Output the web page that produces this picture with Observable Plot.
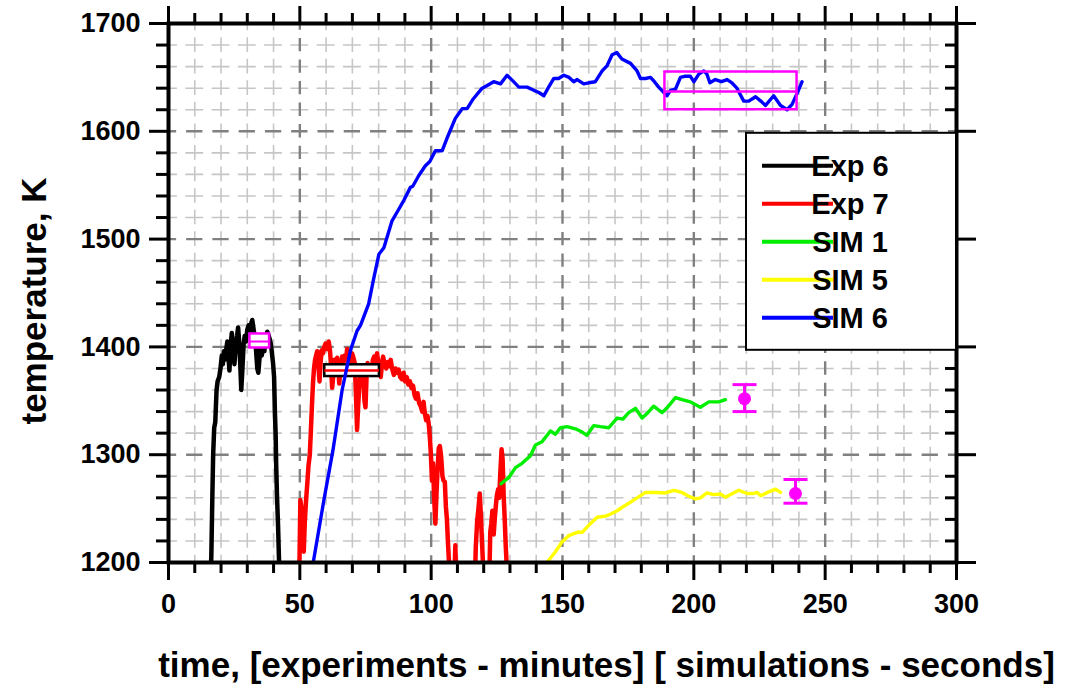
<!DOCTYPE html>
<html>
<head>
<meta charset="utf-8">
<script src="https://cdn.jsdelivr.net/npm/d3@7"></script>
<script src="https://cdn.jsdelivr.net/npm/@observablehq/plot@0.6"></script>
<style>
  html, body { margin: 0; padding: 0; background: white; }
</style>
</head>
<body>
<div id="chart"></div>
<script>
// ---------- data (time, temperature K) ----------
const exp6 = [[15.8,1180],[16.3,1205],[16.7,1262],[17.0,1300],[17.4,1325],[17.8,1330],[18.3,1360],[18.7,1368],[19.3,1372],[19.8,1380],[20.3,1392],[20.7,1384],[21.1,1396],[21.5,1388],[22.0,1398],[22.4,1405],[22.8,1392],[23.2,1378],[23.6,1400],[24.1,1413],[24.6,1400],[25.1,1384],[25.6,1402],[26.1,1410],[26.5,1418],[26.9,1405],[27.3,1385],[27.7,1360],[28.1,1378],[28.6,1402],[29.0,1410],[29.5,1405],[30.0,1416],[30.5,1420],[31.0,1414],[31.5,1422],[31.9,1425],[32.3,1418],[32.8,1410],[33.3,1398],[33.8,1380],[34.2,1376],[34.6,1388],[35.0,1398],[35.5,1392],[36.0,1400],[36.5,1396],[37.0,1408],[37.6,1414],[38.2,1410],[38.8,1405],[39.3,1396],[39.8,1385],[40.2,1372],[40.5,1340],[40.8,1318],[41.0,1290],[41.3,1262],[41.7,1235],[42.1,1200],[42.4,1180]];

const exp7 = [[49.5,1180],[49.9,1205],[50.2,1258],[50.6,1250],[51.0,1228],[51.5,1210],[51.9,1238],[52.3,1255],[52.8,1272],[53.3,1290],[53.8,1300],[54.2,1322],[54.6,1345],[55.0,1366],[55.4,1380],[55.8,1388],[56.2,1392],[56.6,1396],[57.0,1385],[57.5,1368],[57.9,1385],[58.3,1397],[58.8,1394],[59.3,1400],[59.8,1403],[60.4,1398],[61.0,1405],[61.5,1396],[61.9,1382],[62.3,1362],[62.7,1372],[63.2,1388],[63.7,1385],[64.2,1390],[64.7,1378],[65.0,1366],[65.5,1380],[66.1,1391],[66.6,1386],[67.1,1392],[67.6,1388],[68.0,1398],[68.4,1388],[68.8,1375],[69.3,1385],[69.9,1394],[70.4,1390],[70.9,1385],[71.3,1360],[71.8,1323],[72.2,1345],[72.7,1366],[73.2,1378],[73.7,1382],[74.2,1370],[74.6,1350],[75.0,1344],[75.4,1372],[75.8,1385],[76.3,1378],[76.8,1382],[77.3,1376],[77.8,1388],[78.3,1391],[78.8,1386],[79.4,1394],[79.9,1385],[80.4,1376],[80.8,1372],[81.3,1385],[81.7,1391],[82.3,1384],[82.9,1380],[83.5,1386],[84.1,1382],[84.6,1388],[85.1,1380],[85.8,1374],[86.4,1380],[87.0,1376],[87.6,1379],[88.2,1372],[88.9,1370],[89.5,1376],[90.1,1368],[90.7,1372],[91.3,1365],[91.9,1368],[92.5,1362],[93.1,1364],[93.7,1355],[94.2,1352],[94.8,1357],[95.4,1348],[96.0,1345],[96.6,1340],[97.1,1349],[97.6,1338],[98.1,1332],[98.6,1336],[99.1,1328],[99.5,1316],[99.9,1300],[100.3,1276],[100.7,1292],[101.1,1262],[101.6,1236],[102.0,1262],[102.4,1285],[102.9,1306],[103.3,1308],[103.8,1298],[104.3,1280],[104.7,1276],[105.2,1275],[105.6,1252],[106.0,1240],[106.4,1218],[106.8,1200],[107.1,1180],[108.8,1180],[109.2,1216],[109.6,1180],[116.6,1180],[117.0,1215],[117.5,1238],[118.0,1250],[118.5,1264],[118.9,1245],[119.3,1222],[119.8,1195],[120.2,1180],[122.1,1180],[122.5,1228],[122.9,1236],[123.3,1248],[123.8,1226],[124.2,1240],[124.6,1252],[125.0,1262],[125.5,1268],[125.9,1260],[126.3,1282],[126.8,1305],[127.2,1296],[127.6,1262],[128.0,1240],[128.4,1215],[128.8,1195],[129.0,1180]];

const sim1 = [[126.6,1273],[129.6,1279],[132.1,1288],[134.6,1292],[137.8,1299],[139.7,1309],[142.2,1312],[145.4,1322],[147.3,1319],[149.2,1325],[151.8,1326],[154.9,1324],[157.5,1321],[159.3,1318],[161.9,1327],[164.4,1326],[167.6,1325],[170.8,1334],[173.0,1333],[175.2,1339],[177.8,1343],[180.3,1334],[182.5,1339],[184.7,1345],[187.9,1339],[190.0,1344],[193.0,1353],[195.5,1351],[198.7,1349],[202.5,1344],[205.7,1349],[209.5,1349],[212.0,1351]];

const sim5 = [[144.1,1200],[147.3,1210],[149.8,1219],[152.4,1225],[155.6,1228],[157.5,1228],[160.6,1236],[163.2,1242],[166.4,1243],[168.4,1245],[170.8,1248],[172.6,1251],[175.9,1256],[178.4,1260],[181.6,1265],[186.0,1265],[189.2,1264.5],[192.4,1267],[195.5,1265],[198.1,1261.5],[200.6,1259],[202.5,1260],[205.0,1264.6],[207.5,1263],[210.1,1263.5],[212.0,1260.6],[214.0,1263],[217.1,1267],[220.3,1264],[222.8,1264],[224.0,1265],[225.5,1262],[228.5,1265.5],[231.1,1268],[233.0,1265]];

const sim6 = [[55.1,1200],[59.1,1257],[62.6,1304],[66.1,1360],[69.3,1397],[71.8,1415],[73.1,1420],[76.2,1440],[78.0,1462],[80.1,1486],[82.0,1492],[85.1,1517],[87.5,1527],[89.6,1536],[92.1,1548],[93.0,1549],[95.3,1559],[97.8,1568],[99.5,1572],[101.6,1582],[104.2,1582],[106.1,1594],[109.2,1612],[111.8,1621],[113.7,1621],[116.0,1630],[119.4,1640],[121.0,1642],[123.8,1646],[126.4,1644],[128.9,1652],[131.0,1647],[133.4,1641],[136.5,1641],[139.1,1638],[141.0,1636],[142.9,1633],[144.5,1640],[146.7,1649],[148.5,1649],[150.5,1652],[152.5,1650],[154.3,1646],[155.6,1648],[158.1,1644],[160.0,1645],[162.5,1646],[165.1,1656],[167.0,1661],[168.9,1671],[170.7,1673],[172.6,1667],[175.9,1663],[178.4,1656],[179.7,1649],[181.6,1649],[183.5,1650],[185.0,1646],[186.6,1641],[189.8,1633],[191.1,1638],[193.0,1639],[194.9,1650],[196.5,1651],[198.7,1651],[200.0,1646],[201.9,1653],[203.8,1656],[205.0,1653],[206.1,1645],[208.2,1648],[210.5,1646],[212.7,1648],[214.5,1645],[216.4,1640],[219.0,1628],[220.9,1628],[223.5,1632],[225.5,1628],[227.3,1624],[230.4,1633],[233.0,1624],[235.5,1620],[237.4,1625],[239.3,1635],[241.2,1646]];

// measured ranges (boxes): [t1, t2, Tlow, Thigh, Tmid]
const boxExp6 = [[31, 38.5, 1399, 1412, 1405]];
const boxExp7 = [[59.5, 80.3, 1372.5, 1383.4, 1378]];
const boxSim6 = [[189, 239.3, 1620, 1655, 1637]];

// simulation reference points with error bars
const errT    = [219.3, 238.7];
const errMean = [1352, 1264];
const errLo   = [1340, 1255];
const errHi   = [1365, 1277];

// series legend
const seriesNames  = ["Exp 6", "Exp 7", "SIM 1", "SIM 5", "SIM 6"];
const seriesColors = ["#000000", "#ff0000", "#00ee00", "#ffff00", "#0000ff"];

// ticks
const majorX = [0, 50, 100, 150, 200, 250, 300];
const minorX = d3.range(0, 301, 10).filter(v => v % 50 !== 0);
const majorY = [1200, 1300, 1400, 1500, 1600, 1700];
const minorY = d3.range(1200, 1701, 20).filter(v => v % 100 !== 0);
const gridMajorX = [50, 100, 150, 200, 250];
const gridMajorY = [1300, 1400, 1500, 1600];

const xLabel = "time, [experiments - minutes] [ simulations - seconds]";
const yLabel = "temperature, K";

// ---------- layout ----------
const W = 1068, H = 692, mL = 168, mR = 112, mT = 23, mB = 130;
const cellX = (W - mL - mR) / 30, cellY = (H - mT - mB) / 25;
const FONT = "'Liberation Sans', Arial, Helvetica, sans-serif";
const X = d => d[0], Y = d => d[1];
const errData = errT.map((t, i) => ({t, m: errMean[i], lo: errLo[i], hi: errHi[i]}));
const capSymbol = {draw(ctx) { ctx.moveTo(-12, 0); ctx.lineTo(12, 0); }};
const boxObj = b => b.map(([x1, x2, lo, hi, mid]) => ({x1, x2, lo, hi, mid}));

const noText = () => "";

const chart = Plot.plot({
  width: W, height: H,
  marginLeft: mL, marginRight: mR, marginTop: mT, marginBottom: mB,
  x: {domain: [0, 300], axis: null},
  y: {domain: [1200, 1700], axis: null},
  style: {fontFamily: FONT, fontWeight: "bold", fontSize: "27px", color: "black", background: "white", overflow: "visible"},
  marks: [
    // grids
    Plot.ruleY(minorY, {stroke: "#c6c6c6", strokeWidth: 1.6, strokeDasharray: `${cellX*0.68},${cellX*0.32}`, strokeDashoffset: cellX*0.34}),
    Plot.ruleX(minorX, {stroke: "#c6c6c6", strokeWidth: 1.6, strokeDasharray: `${cellY*0.68},${cellY*0.32}`, strokeDashoffset: cellY*0.34}),
    Plot.ruleY(gridMajorY, {stroke: "#808080", strokeWidth: 2.4, strokeDasharray: `${cellX*0.62},${cellX*0.38}`, strokeDashoffset: cellX*0.31}),
    Plot.ruleX(gridMajorX, {stroke: "#808080", strokeWidth: 2.4, strokeDasharray: `${cellY*0.62},${cellY*0.38}`, strokeDashoffset: cellY*0.31}),

    // Exp 6 and its range box
    Plot.line(exp6, {x: X, y: Y, stroke: seriesColors[0], strokeWidth: 4.5, clip: true}),
    Plot.rect(boxObj(boxExp6), {x1: "x1", x2: "x2", y1: "lo", y2: "hi", fill: "white", stroke: "#ff00ff", strokeWidth: 2.5}),
    Plot.ruleY(boxObj(boxExp6), {x1: "x1", x2: "x2", y: "mid", stroke: "#ff00ff", strokeWidth: 2}),

    // Exp 7 and its range box
    Plot.line(exp7, {x: X, y: Y, stroke: seriesColors[1], strokeWidth: 4.5, clip: true}),
    Plot.rect(boxObj(boxExp7), {x1: "x1", x2: "x2", y1: "lo", y2: "hi", fill: "white", stroke: "black", strokeWidth: 2.5}),
    Plot.ruleY(boxObj(boxExp7), {x1: "x1", x2: "x2", y: "mid", stroke: "#ff0000", strokeWidth: 2.5}),

    // simulations
    Plot.line(sim1, {x: X, y: Y, stroke: seriesColors[2], strokeWidth: 3.4, clip: true}),
    Plot.line(sim5, {x: X, y: Y, stroke: seriesColors[3], strokeWidth: 3.4, clip: true}),
    Plot.line(sim6, {x: X, y: Y, stroke: seriesColors[4], strokeWidth: 3.4, clip: true}),
    Plot.rect(boxObj(boxSim6), {x1: "x1", x2: "x2", y1: "lo", y2: "hi", fill: "none", stroke: "#ff00ff", strokeWidth: 2.5}),
    Plot.ruleY(boxObj(boxSim6), {x1: "x1", x2: "x2", y: "mid", stroke: "#ff00ff", strokeWidth: 2.5}),

    // error bars
    Plot.ruleX(errData, {x: "t", y1: "lo", y2: "hi", stroke: "#ff00ff", strokeWidth: 3}),
    Plot.dot(errData, {x: "t", y: "lo", symbol: capSymbol, stroke: "#ff00ff", strokeWidth: 3}),
    Plot.dot(errData, {x: "t", y: "hi", symbol: capSymbol, stroke: "#ff00ff", strokeWidth: 3}),
    Plot.dot(errData, {x: "t", y: "m", r: 6.5, fill: "#ff00ff"}),

    // frame & axes
    Plot.frame({stroke: "black", strokeWidth: 4}),
    Plot.axisX(majorX, {anchor: "bottom", tickSize: 18, tickPadding: 13, strokeWidth: 3, fontSize: 27, label: null, tickFormat: d => String(d)}),
    Plot.axisX(minorX, {anchor: "bottom", tickSize: 11, strokeWidth: 3, label: null, tickFormat: noText}),
    Plot.axisX(majorX, {anchor: "top", tickSize: 18, strokeWidth: 3, label: null, tickFormat: noText}),
    Plot.axisX(minorX, {anchor: "top", tickSize: 11, strokeWidth: 3, label: null, tickFormat: noText}),
    Plot.axisY(majorY, {anchor: "left", tickSize: 19, tickPadding: 9, strokeWidth: 3, fontSize: 27, label: null, tickFormat: d => String(d)}),
    Plot.axisY(minorY, {anchor: "left", tickSize: 12, strokeWidth: 3, label: null, tickFormat: noText}),
    Plot.axisY(majorY, {anchor: "right", tickSize: 19, strokeWidth: 3, label: null, tickFormat: noText}),
    Plot.axisY(minorY, {anchor: "right", tickSize: -12, strokeWidth: 3, label: null, tickFormat: noText}),

    // axis titles
    Plot.text([xLabel], {frameAnchor: "bottom", dx: 44, dy: 103, textAnchor: "middle", lineAnchor: "middle", fontSize: 35, fontWeight: "bold"}),
    Plot.text([yLabel], {frameAnchor: "left", dx: -134, dy: 8, rotate: -90, textAnchor: "middle", lineAnchor: "middle", fontSize: 35, fontWeight: "bold"})
  ]
});

document.getElementById("chart").appendChild(chart);

// ---------- legend (anchored to the plot frame via scales) ----------
const sx = chart.scale("x"), sy = chart.scale("y");
const legW = 210, legH = 217;
const legX = sx.apply(300) - legW, legY = sy.apply(1600) + 2;
const leg = d3.select(chart).append("g").attr("font-family", FONT).attr("font-weight", "bold");
leg.append("rect").attr("x", legX).attr("y", legY).attr("width", legW).attr("height", legH)
  .attr("fill", "white").attr("stroke", "black").attr("stroke-width", 2);
seriesNames.forEach((name, i) => {
  const yy = legY + 33 + i * 38;
  leg.append("line").attr("x1", legX + 16).attr("x2", legX + 87).attr("y1", yy).attr("y2", yy)
    .attr("stroke", seriesColors[i]).attr("stroke-width", 4);
  leg.append("text").attr("x", legX + 104).attr("y", yy).attr("dy", "0.35em")
    .attr("font-size", 29).attr("fill", "black").text(name);
});
</script>
</body>
</html>
